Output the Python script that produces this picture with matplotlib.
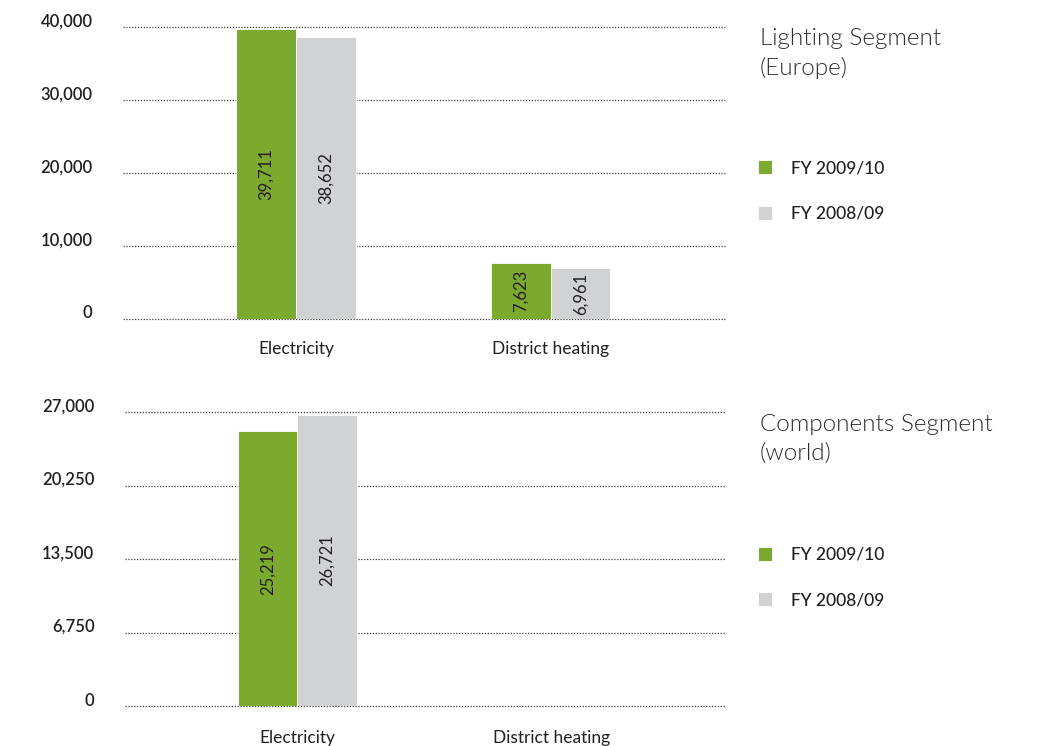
import matplotlib.pyplot as plt
from matplotlib.transforms import ScaledTranslation

# dati
categories = ['Electricity', 'District heating']
series_names = ['FY 2009/10', 'FY 2008/09']

lighting_2010 = [39711, 7623]
lighting_2009 = [38652, 6961]
lighting_ticks = [0, 10000, 20000, 30000, 40000]

# components: solo electricity
components_2010 = [25219]
components_2009 = [26721]
components_ticks = [0, 6750, 13500, 20250, 27000]

green = '#7BAA2F'
grey = '#D1D2D4'
text_col = '#231F20'

plt.rcParams['font.family'] = ['Lato', 'DejaVu Sans']

fig = plt.figure(figsize=(10.37, 7.46), dpi=100)
ax1 = fig.add_axes([0.1186, 0.5724, 0.5805, 0.3914])
ax2 = fig.add_axes([0.1205, 0.0536, 0.5786, 0.3941])

w = 0.235


def draw_panel(ax, v_new, v_old, ticks, cat_pad):
    x_new = [i - w / 2 for i in range(len(v_new))]
    x_old = [i + w / 2 for i in range(len(v_old))]
    b1 = ax.bar(x_new, v_new, width=w, color=green, edgecolor='white', linewidth=0.6, zorder=3)
    b2 = ax.bar(x_old, v_old, width=w, color=grey, edgecolor='white', linewidth=0.6, zorder=3)
    for bars, vals in ((b1, v_new), (b2, v_old)):
        for r, v in zip(bars, vals):
            ax.text(r.get_x() + r.get_width() / 2, v / 2, f'{v:,}', rotation=90,
                    ha='center', va='center', fontsize=12, color=text_col, zorder=4)
    ax.set_ylim(0, ticks[-1])
    ax.set_xlim(-0.68, 1.685)
    ax.set_yticks(ticks)
    ax.set_yticklabels([f'{t:,}' for t in ticks])
    ax.set_xticks(range(len(categories)))
    ax.set_xticklabels(categories)
    ax.tick_params(axis='y', length=0, pad=22, labelsize=12, labelcolor=text_col)
    ax.tick_params(axis='x', length=0, pad=cat_pad, labelsize=12.5, labelcolor=text_col)
    for lab in ax.get_yticklabels():
        lab.set_fontweight('semibold')
        lab.set_transform(lab.get_transform() + ScaledTranslation(0, 0.07, fig.dpi_scale_trans))
    ax.grid(axis='y', linestyle=(0, (1, 1.3)), color='#3a3a3a', linewidth=0.9, zorder=1)
    for gl in ax.get_ygridlines():
        gl.set_clip_on(False)
    for s in ax.spines.values():
        s.set_visible(False)
    return b1, b2


h1 = draw_panel(ax1, lighting_2010, lighting_2009, lighting_ticks, 16)
h2 = draw_panel(ax2, components_2010, components_2009, components_ticks, 17)

# titoli a destra
fig.text(0.733, 0.962, 'Lighting Segment\n(Europe)', fontsize=17.5, fontweight=300,
         color='#2e2e2e', va='top', ha='left', linespacing=1.42)
fig.text(0.733, 0.445, 'Components Segment\n(world)', fontsize=17.5, fontweight=300,
         color='#2e2e2e', va='top', ha='left', linespacing=1.42)

# legende
for ax, h, ytop in ((ax1, h1, 0.785), (ax2, h2, 0.267)):
    leg = ax.legend(h, series_names, loc='upper left', bbox_to_anchor=(0.731, ytop),
                    bbox_transform=fig.transFigure, frameon=False, borderpad=0,
                    borderaxespad=0, fontsize=12.5, handlelength=0.8, handleheight=0.85,
                    handletextpad=1.1, labelspacing=1.7)
    for t in leg.get_texts():
        t.set_color(text_col)
        t.set_fontweight('medium')

fig.savefig('out.png', dpi=100)
